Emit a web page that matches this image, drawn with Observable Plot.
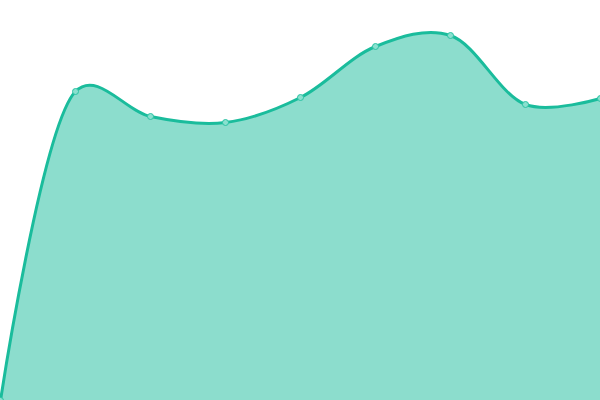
<!DOCTYPE html>
<html><head><meta charset="utf-8">
<script src="https://cdn.jsdelivr.net/npm/d3@7"></script>
<script src="https://cdn.jsdelivr.net/npm/@observablehq/plot@0.6"></script>
<style>body{margin:0;background:#fff}</style>
</head><body><div id="chart"></div>
<script>
const categories = [0, 1, 2, 3, 4, 5, 6, 7, 8];
const values = [0, 309, 284, 278, 303, 354, 365, 296, 302];
const data = categories.map((c, i) => ({x: c, y: values[i]}));
const curve = d3.curveCatmullRom.alpha(0.3);
const chart = Plot.plot({
  width: 600, height: 400,
  margin: 0,
  x: {domain: [0, 8], axis: null},
  y: {domain: [0, 400], axis: null},
  marks: [
    Plot.areaY(data, {x: "x", y: "y", curve, fill: "#1abc9c", fillOpacity: 0.5}),
    Plot.lineY(data, {x: "x", y: "y", curve, stroke: "#1abc9c", strokeWidth: 3}),
    Plot.dot(data, {x: "x", y: "y", r: 3, fill: "#8ae0cf", stroke: "#2cc3a4", strokeWidth: 1})
  ]
});
document.getElementById("chart").appendChild(chart);
</script></body></html>
